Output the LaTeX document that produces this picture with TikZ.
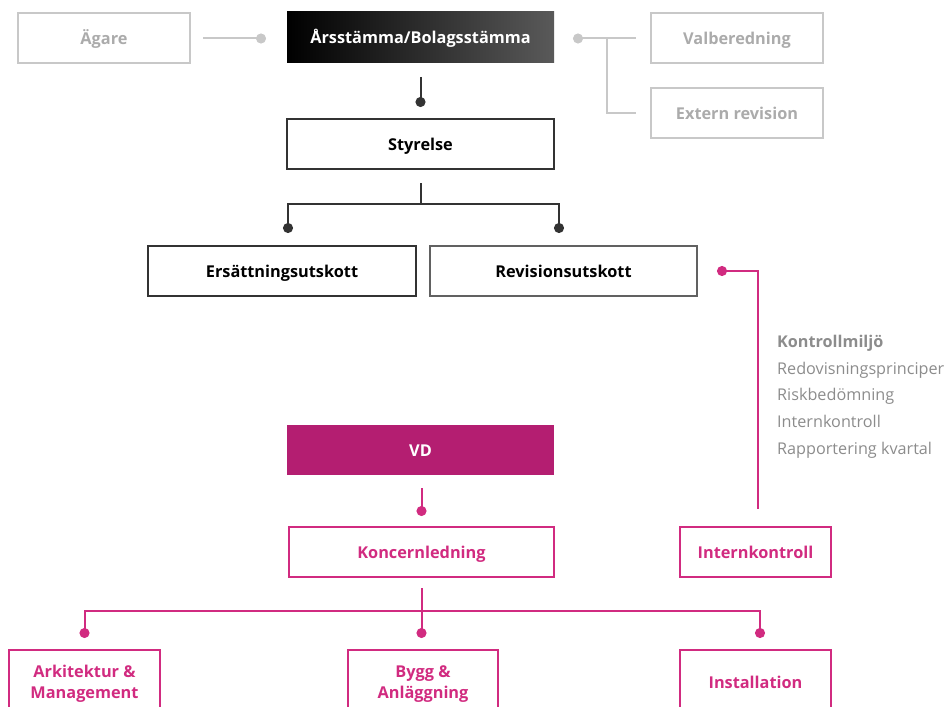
\documentclass[tikz,border=0pt]{standalone}
\usepackage{fontspec}
\setmainfont{Open Sans}
\usetikzlibrary{arrows.meta}
\definecolor{lgray}{HTML}{C8C8C8}
\definecolor{tgray}{HTML}{ABABAB}
\definecolor{dark}{HTML}{333333}
\definecolor{mag}{HTML}{D12B80}
\definecolor{magfill}{HTML}{B41E71}
\definecolor{ktext}{HTML}{8C8C8C}
\tikzset{
  box/.style={draw, line width=2pt, minimum height=50pt, inner sep=2pt,
    font=\fontsize{16.3}{21}\selectfont\bfseries, align=center,
    text height=15pt, text depth=2pt},
  graybox/.style={box, draw=lgray, text=tgray, minimum width=172pt},
  darkbox/.style={box, draw=dark, text=black},
  magbox/.style={box, draw=mag, text=mag},
  divbox/.style={draw, line width=2pt, draw=mag, text=mag, inner sep=2pt,
    font=\fontsize{16.3}{21}\selectfont\bfseries, align=center,
    minimum height=64pt, text depth=0pt},
  conn/.style={line width=2pt},
  dotend/.style={-{Circle[length=10pt,width=10pt]}},
  dotstart/.style={{Circle[length=10pt,width=10pt]}-},
}
\begin{document}
\begin{tikzpicture}[x=1pt,y=-1pt]
\useasboundingbox (0,0) rectangle (949,706);
% top row
\node[graybox] (ag) at (104,38.5) {Ägare};
\node[box, draw=none, minimum width=267pt, minimum height=51pt, left color=black, right color=black!65!white, text=white] (ars) at (420.5,37.5) {Årsstämma/Bolagsstämma};
\node[graybox] (val) at (737,38.5) {Valberedning};
\node[graybox] (ext) at (737,113) {Extern revision};
\draw[conn, draw=lgray, dotend] ([xshift=12pt]ag.east) -- ([xshift=-20pt]ars.west |- ag.east);
\draw[conn, draw=lgray, dotstart] ([xshift=18pt]ars.east |- val.west) -- ([xshift=-14pt]val.west);
\draw[conn, draw=lgray] ([xshift=52pt]ars.east |- val.west) |- ([xshift=-14pt]ext.west);
% board
\node[darkbox, minimum width=267pt] (sty) at (420.5,144) {Styrelse};
\draw[conn, draw=dark, dotend] ([yshift=-13pt]ars.south) -- ([yshift=11pt]sty.north);
\node[darkbox, minimum width=268pt] (ers) at (282,271) {Ersättningsutskott};
\node[box, draw=black!62, text=black, minimum width=267pt] (rev) at (563.5,271) {Revisionsutskott};
\coordinate (jb) at ([yshift=-34pt]sty.south);
\draw[conn, draw=dark] ([yshift=-13pt]sty.south) -- (jb);
\draw[conn, draw=dark, dotend] (jb) -| ([xshift=6pt, yshift=12pt]ers.north);
\draw[conn, draw=dark, dotend] (jb) -| ([xshift=-4.5pt, yshift=12pt]rev.north);
% control text
\node[anchor=north west, align=left, inner sep=0pt, text=ktext,
  font=\fontsize{16.2}{26.7}\selectfont] (kt) at (777,335)
  {\textbf{Kontrollmiljö}\\Redovisningsprinciper\\Riskbedömning\\Internkontroll\\Rapportering kvartal};
% management
\node[box, draw=none, fill=magfill, text=white, minimum width=267pt] (vd) at (420.5,450) {VD};
\node[magbox, minimum width=265pt] (kon) at (421.5,552) {Koncernledning};
\node[magbox, minimum width=151pt] (ik) at (755.5,552) {Internkontroll};
\draw[conn, draw=mag, dotend] ([yshift=-12pt]vd.south -| kon.north) -- ([yshift=10pt]kon.north);
\draw[conn, draw=mag, dotstart] ([xshift=19pt]rev.east) -| ([xshift=2.5pt, yshift=17pt]ik.north);
% divisions
\node[divbox, minimum width=151pt] (ark) at (84.5,682) {Arkitektur \&\\Management};
\node[divbox, minimum width=150pt] (byg) at (423,682) {Bygg \&\\Anläggning};
\node[divbox, minimum width=151pt] (ins) at (755.5,682) {Installation};
\coordinate (jm) at ([yshift=-33pt]kon.south);
\draw[conn, draw=mag] ([yshift=-10pt]kon.south) -- (jm);
\draw[conn, draw=mag, dotend] (jm) -| ([yshift=11pt]ark.north);
\draw[conn, draw=mag, dotend] (jm) -- ([xshift=-1.5pt, yshift=11pt]byg.north);
\draw[conn, draw=mag, dotend] (jm) -| ([xshift=4.5pt, yshift=11pt]ins.north);
\end{tikzpicture}
\end{document}
